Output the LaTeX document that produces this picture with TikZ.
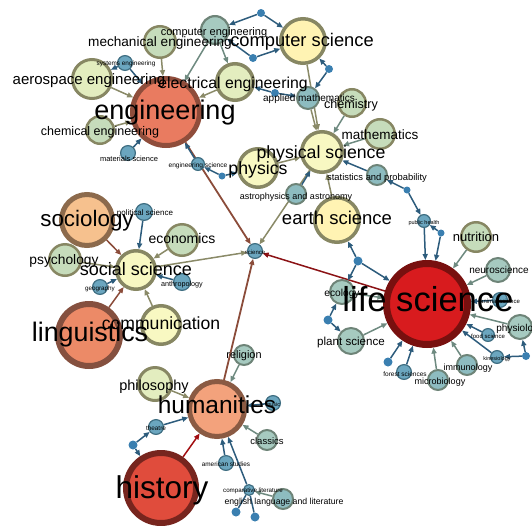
\documentclass[tikz,border=0pt]{standalone}
\usepackage{fontspec}
\setmainfont{Liberation Sans}
\usetikzlibrary{arrows.meta}
\pgfdeclarelayer{back}
\pgfsetlayers{back,main}

\definecolor{redfill}{HTML}{D81B1E}\definecolor{redline}{HTML}{78100F}
\definecolor{histfill}{HTML}{E04C3C}\definecolor{histline}{HTML}{77251E}
\definecolor{engfill}{HTML}{E97B60}\definecolor{engline}{HTML}{8F4D3B}
\definecolor{lingfill}{HTML}{EC8A67}\definecolor{lingline}{HTML}{85503F}
\definecolor{humfill}{HTML}{F3A27C}\definecolor{humline}{HTML}{8A5A43}
\definecolor{socfill}{HTML}{F6C18E}\definecolor{socline}{HTML}{8C6A4C}
\definecolor{yelfill}{HTML}{FFF3B3}\definecolor{palefill}{HTML}{F8F8C2}
\definecolor{limefill}{HTML}{E3EDBF}\definecolor{greenfill}{HTML}{C6DCBB}
\definecolor{mintfill}{HTML}{A6CAC0}\definecolor{tealfill}{HTML}{8DBCC0}
\definecolor{oliveline}{HTML}{878763}\definecolor{greyline}{HTML}{6E8478}
\definecolor{tagfill}{HTML}{6BA6BF}\definecolor{tagline}{HTML}{3F6E82}
\definecolor{dotfill}{HTML}{3A7FB0}
\definecolor{bluelink}{HTML}{2D5C7C}\definecolor{olivelink}{HTML}{8A8A68}
\definecolor{greylink}{HTML}{6E8A80}\definecolor{brownlink}{HTML}{8B4C3A}
\definecolor{redlink}{HTML}{8B1215}

\newcommand\fsz[1]{\fontsize{#1}{#1}\selectfont}

\tikzset{
  field/.style={circle, inner sep=0pt, draw=oliveline},
  tag/.style={circle, inner sep=0pt, line width=1.2pt, draw=tagline, fill=tagfill},
  dot/.style={circle, inner sep=0pt, fill=dotfill, minimum size=8pt},
  lab/.style={inner sep=0pt, text height=.72em, text depth=.2em},
  link/.style={line width=1.5pt, -{Triangle[length=6pt,width=5pt]}},
}

\begin{document}
\begin{tikzpicture}[x=1pt,y=-1pt]
  \useasboundingbox (0,0) rectangle (532,525);

  % engineering
  \node[field, draw=engline, fill=engfill, line width=5pt, minimum size=67pt] (eng) at (166,112) {};
  \node[field, fill=mintfill, draw=greyline, line width=2.2pt, minimum size=27.8pt] (ce) at (215,30) {};
  \node[field, fill=greenfill, line width=2.5pt, minimum size=31.5pt] (me) at (160,42) {};
  \node[field, fill=limefill, line width=3pt, minimum size=39pt] (ae) at (92,79) {};
  \node[field, fill=limefill, line width=3.5pt, minimum size=36.5pt] (ee) at (235,82) {};
  \node[field, fill=greenfill, line width=2.5pt, minimum size=27.5pt] (che) at (100,130) {};
  \node[tag, minimum size=14.8pt] (se) at (125,63) {};
  \node[tag, minimum size=14.8pt] (ms) at (128,153) {};
  \node[tag, minimum size=12.8pt] (es) at (198,164) {};
  \node[dot, minimum size=7pt] (d1) at (222,176) {};

  % physical science
  \node[field, fill=yelfill, line width=3.5pt, minimum size=44.5pt] (cs) at (303,41) {};
  \node[field, fill=palefill, line width=3.5pt, minimum size=38.5pt] (ph) at (258,168) {};
  \node[field, fill=palefill, line width=3.5pt, minimum size=40.5pt] (ps) at (322,152) {};
  \node[field, fill=tealfill, draw=greyline, line width=2pt, minimum size=22pt] (am) at (308,98) {};
  \node[field, fill=greenfill, line width=2.5pt, minimum size=27.5pt] (ch) at (352,103) {};
  \node[field, fill=greenfill, line width=2.5pt, minimum size=29.5pt] (ma) at (380,134) {};
  \node[field, fill=tealfill, draw=greyline, line width=2pt, minimum size=20pt] (sp) at (377,175) {};
  \node[field, fill=tealfill, draw=greyline, line width=2pt, minimum size=20pt] (aa) at (296,194) {};
  \node[field, fill=yelfill, line width=3.5pt, minimum size=44.5pt] (ea) at (337,220) {};
  \node[tag, minimum size=14.8pt] (sci) at (255,251) {};
  \node[dot] (d2) at (261,13) {};
  \node[dot] (d3) at (253,58) {};
  \node[dot] (d4) at (329,69) {};
  \node[dot] (d5) at (275,93) {};
  \node[dot, minimum size=7pt] (d10) at (407,190) {};

  % life science
  \node[field, draw=redline, fill=redfill, line width=7pt, minimum size=81pt] (ls) at (427,304) {};
  \node[tag, minimum size=12.8pt] (ph2) at (424,221) {};
  \node[dot, minimum size=7pt] (d11) at (441,233) {};
  \node[field, fill=mintfill, draw=greyline, line width=2pt, minimum size=24pt] (eco) at (342,292) {};
  \node[field, fill=mintfill, draw=greyline, line width=2pt, minimum size=26pt] (pls) at (351,341) {};
  \node[dot, minimum size=9pt] (d6) at (358,261) {};
  \node[dot, minimum size=9pt] (d7) at (328,320) {};
  \node[field, fill=greenfill, line width=2.5pt, minimum size=29.5pt] (nu) at (476,237) {};
  \node[field, fill=mintfill, draw=greyline, line width=2pt, minimum size=24pt] (ne) at (498,270) {};
  \node[tag, minimum size=14.8pt] (an) at (500,300) {};
  \node[field, fill=mintfill, draw=greyline, line width=2pt, minimum size=24pt] (py) at (520,327) {};
  \node[tag, minimum size=12.8pt] (fs) at (488,335) {};
  \node[tag, minimum size=12.8pt] (ki) at (497,357) {};
  \node[dot] (d8) at (526,356) {};
  \node[field, fill=tealfill, draw=greyline, line width=2pt, minimum size=20pt] (im) at (467,365) {};
  \node[field, fill=tealfill, draw=greyline, line width=2pt, minimum size=20pt] (mi) at (438,380) {};
  \node[tag, minimum size=14.8pt] (fo) at (404,372) {};
  \node[dot, minimum size=9pt] (d9) at (388,362) {};

  % social science
  \node[field, draw=socline, fill=socfill, line width=5pt, minimum size=51pt] (so) at (87,220) {};
  \node[tag, minimum size=16.8pt] (pol) at (144,212) {};
  \node[field, fill=greenfill, line width=2.5pt, minimum size=31.5pt] (ec) at (182,240) {};
  \node[field, fill=greenfill, line width=2.5pt, minimum size=31.5pt] (psy) at (65,260) {};
  \node[field, fill=palefill, line width=3.5pt, minimum size=38.5pt] (ss) at (136,270) {};
  \node[tag, minimum size=14.8pt] (geo) at (100,287) {};
  \node[tag, minimum size=16.8pt] (ant) at (182,282) {};
  \node[field, draw=lingline, fill=lingfill, line width=6pt, minimum size=62pt] (li) at (89,335) {};
  \node[field, fill=palefill, line width=3.5pt, minimum size=38.5pt] (co) at (161,325) {};

  % humanities
  \node[field, draw=humline, fill=humfill, line width=5pt, minimum size=55pt] (hu) at (217,409) {};
  \node[field, fill=mintfill, draw=greyline, line width=2pt, minimum size=20pt] (re) at (244,355) {};
  \node[field, fill=limefill, line width=3pt, minimum size=33pt] (phi) at (155,384) {};
  \node[tag, minimum size=14.8pt] (mu) at (273,403) {};
  \node[field, fill=mintfill, draw=greyline, line width=2pt, minimum size=20pt] (cl) at (267,440) {};
  \node[tag, minimum size=14.8pt] (th) at (156,427) {};
  \node[dot, minimum size=9pt] (d12) at (133,445) {};
  \node[tag, minimum size=14.8pt] (as) at (226,463) {};
  \node[tag, minimum size=10.8pt] (cpl) at (249,490) {};
  \node[field, fill=tealfill, draw=greyline, line width=2pt, minimum size=20pt] (en) at (283,499) {};
  \node[dot, minimum size=9pt] (d13) at (236,512) {};
  \node[dot, minimum size=9pt] (d14) at (255,517) {};
  \node[field, draw=histline, fill=histfill, line width=6pt, minimum size=70pt] (hi) at (161,488) {};

  \begin{pgfonlayer}{back}
    % to science
    \draw[link, brownlink, line width=1.8pt] (eng) -- (sci);
    \draw[link, olivelink] (ps) -- (sci);
    \draw[link, olivelink] (ss) -- (sci);
    \draw[link, redlink] (ls) -- (sci);
    \draw[link, brownlink, line width=1.8pt] (hu) -- (sci);

    \draw[link, greylink] (ce) -- (eng);
    \draw[link, greylink] (ce) -- (ee);
    \draw[link, olivelink] (me) -- (eng);
    \draw[link, olivelink] (ae) -- (eng);
    \draw[link, olivelink] (ee) -- (eng);
    \draw[link, olivelink] (che) -- (eng);
    \draw[link, bluelink] (se) -- (ae);
    \draw[link, bluelink] (se) -- (eng);
    \draw[link, bluelink] (ms) -- (eng);
    \draw[link, bluelink] (es) -- (eng);
    \draw[link, bluelink] (d1) -- (es);
    \draw[link, bluelink] (d1) -- (ph);

    \draw[link, bluelink] (d2) -- (ce);
    \draw[link, bluelink] (d2) -- (cs);
    \draw[link, bluelink] (d3) -- (ce);
    \draw[link, bluelink] (d3) -- (cs);
    \draw[link, bluelink] (d4) -- (cs);
    \draw[link, bluelink] (d4) -- (am);
    \draw[link, bluelink] (d5) -- (ee);
    \draw[link, bluelink] (d5) -- (am);
    \draw[link, olivelink] (cs) -- (ps);
    \draw[link, olivelink] (am) -- (ps);
    \draw[link, greylink] (ch) -- (ps);
    \draw[link, greylink] (ma) -- (ps);
    \draw[link, bluelink] (sp) -- (ps);
    \draw[link, bluelink] (aa) -- (ps);
    \draw[link, olivelink] (ea) -- (ps);
    \draw[link, olivelink] (ph) -- (ps);
    \draw[link, bluelink] (d10) -- (sp);
    \draw[link, bluelink] (d10) -- (ph2);

    \draw[link, bluelink] (ph2) -- (ls);
    \draw[link, bluelink] (d11) -- (ph2);
    \draw[link, bluelink] (d11) -- (ls);
    \draw[link, bluelink] (d6) -- (ea);
    \draw[link, bluelink] (d6) -- (ls);
    \draw[link, bluelink] (d6) -- (eco);
    \draw[link, greylink] (eco) -- (ls);
    \draw[link, greylink] (pls) -- (ls);
    \draw[link, bluelink] (d7) -- (eco);
    \draw[link, bluelink] (d7) -- (pls);
    \draw[link, greylink] (nu) -- (ls);
    \draw[link, greylink] (ne) -- (ls);
    \draw[link, bluelink] (an) -- (ls);
    \draw[link, greylink] (py) -- (ls);
    \draw[link, bluelink] (fs) -- (ls);
    \draw[link, bluelink] (ki) -- (ls);
    \draw[link, bluelink] (d8) -- (ki);
    \draw[link, bluelink] (d8) -- (py);
    \draw[link, greylink] (im) -- (ls);
    \draw[link, greylink] (mi) -- (ls);
    \draw[link, bluelink] (fo) -- (ls);
    \draw[link, bluelink] (d9) -- (ls);

    \draw[link, brownlink] (so) -- (ss);
    \draw[link, olivelink] (psy) -- (ss);
    \draw[link, bluelink] (pol) -- (ss);
    \draw[link, olivelink] (ec) -- (ss);
    \draw[link, bluelink] (ant) -- (ss);
    \draw[link, bluelink] (geo) -- (ss);
    \draw[link, brownlink] (li) -- (ss);
    \draw[link, olivelink] (co) -- (ss);

    \draw[link, redlink!80!red] (hi) -- (hu);
    \draw[link, olivelink] (phi) -- (hu);
    \draw[link, greylink] (re) -- (hu);
    \draw[link, bluelink] (mu) -- (hu);
    \draw[link, greylink] (cl) -- (hu);
    \draw[link, bluelink] (th) -- (hu);
    \draw[link, bluelink] (d12) -- (th);
    \draw[link, bluelink] (d12) -- (hi);
    \draw[link, bluelink] (as) -- (hu);
    \draw[link, bluelink] (cpl) -- (hu);
    \draw[link, greylink] (en) -- (cpl);
    \draw[bluelink, line width=1.5pt] (d13) -- (cpl);
    \draw[bluelink, line width=1.5pt] (d14) -- (cpl);
  \end{pgfonlayer}

  % labels
  \node[lab, font=\fsz{27}] (eng-t) at (165,117) {engineering};
  \node[lab, font=\fsz{11}] (ce-t) at (214,33) {computer engineering};
  \node[lab, font=\fsz{13.6}] (me-t) at (160,44) {mechanical engineering};
  \node[lab, font=\fsz{15}] (ae-t) at (89,82) {aerospace engineering};
  \node[lab, font=\fsz{15.8}] (ee-t) at (233,86) {electrical engineering};
  \node[lab, font=\fsz{12.5}] (che-t) at (100,133) {chemical engineering};
  \node[lab, font=\fsz{6.4}] (se-t) at (126,63) {systems engineering};
  \node[lab, font=\fsz{7.5}] (ms-t) at (129,159) {materials science};
  \node[lab, font=\fsz{6.6}] (es-t) at (198,165) {engineering science};

  \node[lab, font=\fsz{18.3}] (cs-t) at (302,44) {computer science};
  \node[lab, font=\fsz{17.7}] (ph-t) at (258,172) {physics};
  \node[lab, font=\fsz{17.7}] (ps-t) at (321,156) {physical science};
  \node[lab, font=\fsz{10}] (am-t) at (309,99) {applied mathematics};
  \node[lab, font=\fsz{12.6}] (ch-t) at (351,106) {chemistry};
  \node[lab, font=\fsz{13.5}] (ma-t) at (380,137) {mathematics};
  \node[lab, font=\fsz{9.4}] (sp-t) at (377,178) {statistics and probability};
  \node[lab, font=\fsz{9}] (aa-t) at (296,197) {astrophysics and astronomy};
  \node[lab, font=\fsz{18.5}] (ea-t) at (337,222) {earth science};
  \node[lab, font=\fsz{6}] (sci-t) at (255,252) {science};

  \node[lab, font=\fsz{34.6}] (ls-t) at (428,309) {life science};
  \node[lab, font=\fsz{5.5}] (ph2-t) at (424,222) {public health};
  \node[lab, font=\fsz{10.2}] (eco-t) at (342,294) {ecology};
  \node[lab, font=\fsz{11.6}] (pls-t) at (351,343) {plant science};
  \node[lab, font=\fsz{13}] (nu-t) at (476,239) {nutrition};
  \node[lab, font=\fsz{10}] (ne-t) at (499,271) {neuroscience};
  \node[lab, font=\fsz{6}] (an-t) at (500,301) {animal science};
  \node[lab, font=\fsz{10}] (py-t) at (520,329) {physiology};
  \node[lab, font=\fsz{6}] (fs-t) at (488,336) {food science};
  \node[lab, font=\fsz{5.5}] (ki-t) at (497,358) {kinesiology};
  \node[lab, font=\fsz{9}] (im-t) at (468,368) {immunology};
  \node[lab, font=\fsz{9}] (mi-t) at (440,382) {microbiology};
  \node[lab, font=\fsz{6.5}] (fo-t) at (405,374) {forest sciences};

  \node[lab, font=\fsz{22.4}] (so-t) at (87,224) {sociology};
  \node[lab, font=\fsz{8}] (pol-t) at (145,213) {political science};
  \node[lab, font=\fsz{14}] (ec-t) at (182,241) {economics};
  \node[lab, font=\fsz{13.8}] (psy-t) at (64,262) {psychology};
  \node[lab, font=\fsz{18}] (ss-t) at (136,273) {social science};
  \node[lab, font=\fsz{6.3}] (geo-t) at (100,288) {geography};
  \node[lab, font=\fsz{7.2}] (ant-t) at (182,284) {anthropology};
  \node[lab, font=\fsz{26.8}] (li-t) at (90,339) {linguistics};
  \node[lab, font=\fsz{17.6}] (co-t) at (161,327) {communication};

  \node[lab, font=\fsz{24.5}] (hu-t) at (217,411) {humanities};
  \node[lab, font=\fsz{10.9}] (re-t) at (244,356) {religion};
  \node[lab, font=\fsz{14.5}] (phi-t) at (154,388) {philosophy};
  \node[lab, font=\fsz{5.5}] (mu-t) at (273,404) {music};
  \node[lab, font=\fsz{9.5}] (cl-t) at (267,442) {classics};
  \node[lab, font=\fsz{6.4}] (th-t) at (156,428) {theatre};
  \node[lab, font=\fsz{6.4}] (as-t) at (226,464) {american studies};
  \node[lab, font=\fsz{6.2}] (cpl-t) at (253,490) {comparative literature};
  \node[lab, font=\fsz{8.7}] (en-t) at (284,502) {english language and literature};
  \node[lab, font=\fsz{31.5}] (hi-t) at (162,496) {history};
\end{tikzpicture}
\end{document}
